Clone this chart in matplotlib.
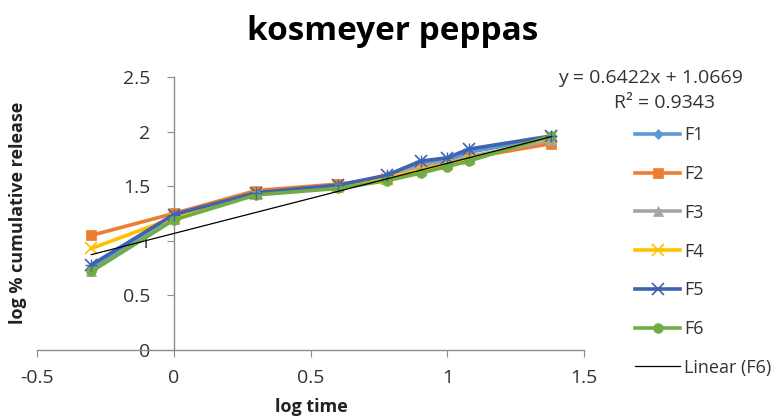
import matplotlib
matplotlib.use("Agg")
import matplotlib.pyplot as plt
import numpy as np

log_time = [-0.301, 0.0, 0.301, 0.602, 0.778, 0.903, 1.0, 1.079, 1.380]
F1 = [0.75, 1.23, 1.44, 1.50, 1.59, 1.70, 1.74, 1.81, 1.95]
F2 = [1.05, 1.25, 1.46, 1.52, 1.57, 1.67, 1.71, 1.76, 1.89]
F3 = [0.72, 1.20, 1.43, 1.49, 1.58, 1.68, 1.72, 1.77, 1.92]
F4 = [0.93, 1.21, 1.43, 1.50, 1.57, 1.65, 1.70, 1.75, 1.95]
F5 = [0.78, 1.24, 1.44, 1.51, 1.60, 1.73, 1.76, 1.84, 1.96]
F6 = [0.72, 1.19, 1.42, 1.48, 1.55, 1.62, 1.68, 1.73, 1.96]
series_names = ["F1", "F2", "F3", "F4", "F5", "F6"]
slope, intercept, r2 = 0.6422, 1.0669, 0.9343
x_ticks = [-0.5, 0, 0.5, 1, 1.5]
y_ticks = [0, 0.5, 1, 1.5, 2, 2.5]

colors = ["#5B9BD5", "#ED7D31", "#A5A5A5", "#FFC000", "#3F63B0", "#70AD47"]
markers = ["D", "s", "^", "x", "x", "o"]
msizes = [5, 7, 7, 8, 8, 7]

plt.rcParams['font.family'] = ['Open Sans', 'DejaVu Sans']

fig = plt.figure(figsize=(7.84, 4.19), dpi=100)
W, H = 784, 419
ax = fig.add_axes([37 / W, 1 - 350 / H, (584 - 37) / W, (350 - 77) / H])

data = [F1, F2, F3, F4, F5, F6]
handles = []
for name, vals, c, m, ms in zip(series_names, data, colors, markers, msizes):
    h, = ax.plot(log_time, vals, color=c, lw=2.6, marker=m, markersize=ms,
                 markeredgecolor=c, markeredgewidth=1.2 if m == "x" else 0.5,
                 label=name, zorder=3)
    handles.append(h)
# F5 asterisk overlay
ax.plot(log_time, F5, ls="none", marker="+", markersize=8, color=colors[4], zorder=3)

xt = np.array([log_time[0], log_time[-1]])
lin, = ax.plot(xt, slope * xt + intercept, color="black", lw=0.9, label="Linear (F6)", zorder=4)
handles.append(lin)

ax.set_xlim(-0.5, 1.5)
ax.set_ylim(0, 2.5)
ax.set_xticks(x_ticks)
ax.set_yticks(y_ticks)
ax.set_xticklabels(["-0.5", "0", "0.5", "1", "1.5"])
ax.set_yticklabels(["0", "0.5", "1", "1.5", "2", "2.5"])
for s in ["top", "right"]:
    ax.spines[s].set_visible(False)
ax.spines["left"].set_position(("data", 0))
for s in ["left", "bottom"]:
    ax.spines[s].set_color("#8C8C8C")
    ax.spines[s].set_linewidth(1.0)
ax.tick_params(axis="both", colors="#8C8C8C", labelcolor="#333333", labelsize=14,
               length=5, direction="out")
ax.tick_params(axis="x", pad=9)
ax.tick_params(axis="y", pad=12)

fig.text(311 / W, 1 - 407 / H, "log time", ha="center", va="center",
         fontsize=13, fontweight="bold", color="#222222")
fig.text(18 / W, 1 - 213 / H, "log % cumulative release", ha="center", va="center",
         rotation=90, fontsize=13, fontweight="bold", color="#222222")
fig.text(393 / W, 1 - 31 / H, "kosmeyer peppas", ha="center", va="center",
         fontsize=24, fontweight="bold", color="black")

fig.text(650 / W, 1 - 78 / H, f"y = {slope}x + {intercept}", ha="center", va="center",
         fontsize=14, color="#333333")
fig.text(665 / W, 1 - 103 / H, f"R² = {r2}", ha="center", va="center",
         fontsize=14, color="#333333")

leg = fig.legend(handles=handles, labels=series_names + ["Linear (F6)"],
                 loc="upper left", bbox_to_anchor=(628 / W, 1 - 119 / H),
                 frameon=False, fontsize=13, labelspacing=1.15,
                 handlelength=2.5, handletextpad=0.2, borderaxespad=0)
for t in leg.get_texts():
    t.set_color("#333333")

fig.savefig("out.png", dpi=100)
